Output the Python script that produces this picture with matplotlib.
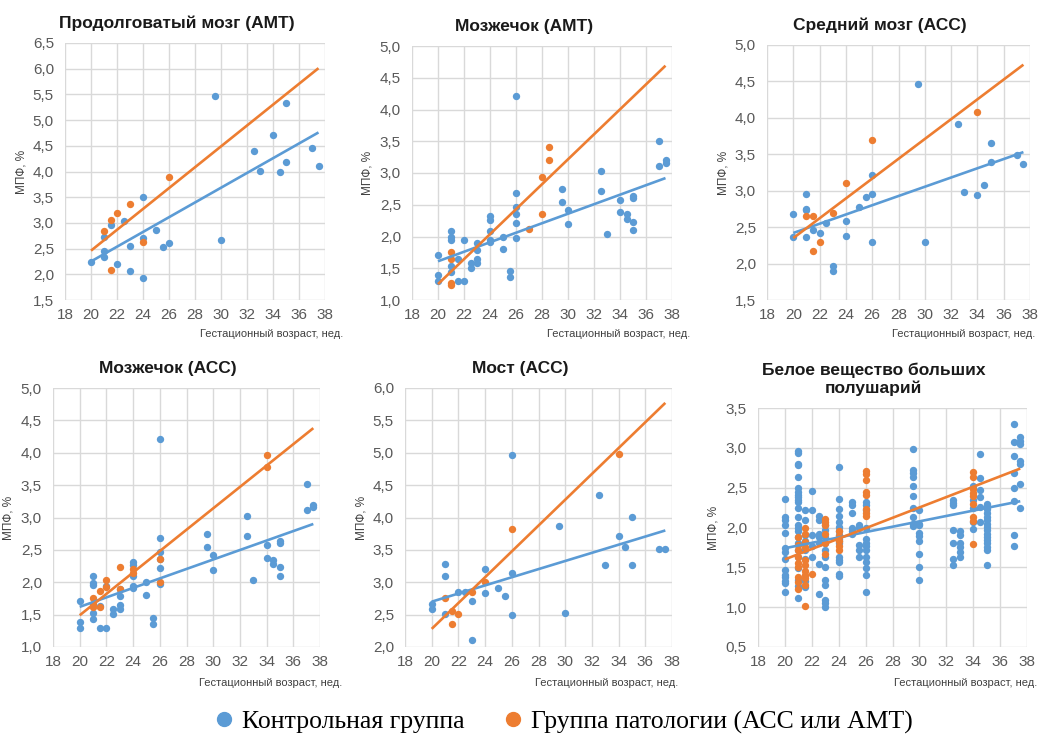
import numpy as np
import matplotlib
matplotlib.use("Agg")
import matplotlib.pyplot as plt
from matplotlib.lines import Line2D
from matplotlib.ticker import FuncFormatter, MultipleLocator

plt.rcParams["font.family"] = ["Liberation Sans", "DejaVu Sans"]

BLUE = "#5B9BD5"
ORANGE = "#ED7D31"
trend_x = [20, 37.5]

# Продолговатый мозг (АМТ)
med_ctrl_x = [20, 21, 21, 21, 21.5, 22, 22.5, 23, 23, 24, 24, 24, 25, 25.5, 26,
              29.5, 30, 32.5, 33, 34, 34.5, 35, 35, 37, 37.5]
med_ctrl_y = [2.24, 2.72, 2.46, 2.33, 2.96, 2.20, 3.03, 2.56, 2.06, 3.50, 2.71, 1.92, 2.86, 2.53, 2.60,
              5.46, 2.66, 4.40, 4.01, 4.71, 3.99, 4.18, 5.33, 4.46, 4.11]
med_path_x = [21, 21.5, 22, 23, 24, 26, 21.5]
med_path_y = [2.84, 3.05, 3.19, 3.37, 2.62, 3.90, 2.08]
med_trend_ctrl = [2.25, 4.76]
med_trend_path = [2.46, 6.01]

# Мозжечок (АМТ)
cer_ctrl_x = [20, 20, 20, 21, 21, 21, 21, 21, 21.5, 21.5, 22, 22, 22.5, 22.5, 23, 23, 23, 23,
              24, 24, 24, 24, 24, 25, 25, 25.5, 25.5, 26, 26, 26, 26, 26, 26,
              29.5, 29.5, 30, 30, 32.5, 32.5, 33, 34, 34, 34.5, 34.5, 35, 35, 35, 35,
              37, 37, 37.5, 37.5]
cer_ctrl_y = [1.71, 1.39, 1.30, 2.09, 1.99, 1.95, 1.53, 1.44, 1.64, 1.30, 1.94, 1.30, 1.58, 1.51,
              1.89, 1.79, 1.65, 1.58, 2.32, 2.26, 2.09, 1.94, 1.91, 2.00, 1.80, 1.45, 1.36,
              4.21, 2.68, 2.47, 2.36, 2.22, 1.98, 2.75, 2.54, 2.42, 2.19, 3.03, 2.72, 2.04,
              2.57, 2.38, 2.35, 2.28, 2.64, 2.61, 2.23, 2.10, 3.51, 3.11, 3.20, 3.16]
cer_amt_x = [21, 21, 21, 21, 27, 28, 28, 28.5, 28.5]
cer_amt_y = [1.76, 1.65, 1.27, 1.23, 2.12, 2.94, 2.35, 3.41, 3.20]
cer_amt_trend_ctrl = [1.61, 2.92]
cer_amt_trend_path = [1.25, 4.69]

# Средний мозг (АСС)
mid_ctrl_x = [20, 20, 21, 21, 21, 21, 21.5, 22, 22.5, 23, 23, 24, 24, 25, 25.5, 26, 26, 26,
              29.5, 30, 32.5, 33, 34, 34.5, 35, 35, 37, 37.5]
mid_ctrl_y = [2.68, 2.36, 2.95, 2.75, 2.73, 2.37, 2.46, 2.42, 2.56, 1.97, 1.90, 2.58, 2.38,
              2.78, 2.92, 3.22, 2.96, 2.29, 4.47, 2.29, 3.92, 2.98, 2.94, 3.08, 3.65, 3.39,
              3.49, 3.37]
mid_path_x = [21, 21.5, 21.5, 22, 23, 24, 26, 34]
mid_path_y = [2.65, 2.65, 2.17, 2.29, 2.70, 3.10, 3.70, 4.08]
mid_trend_ctrl = [2.42, 3.53]
mid_trend_path = [2.35, 4.73]

# Мозжечок (АСС)
cer_acc_path_x = [21, 21, 21, 21.5, 21.5, 22, 22, 23, 23, 24, 24, 26, 26, 34, 34]
cer_acc_path_y = [1.76, 1.67, 1.62, 1.87, 1.62, 2.03, 1.92, 2.24, 1.89, 2.21, 2.14, 2.36, 2.00,
                  3.97, 3.78]
cer_acc_trend_ctrl = [1.62, 2.90]
cer_acc_trend_path = [1.49, 4.38]

# Мост (АСС)
pons_ctrl_x = [20, 20, 21, 21, 21, 22, 22.5, 23, 23, 24, 24, 25, 25.5, 26, 26, 26,
               29.5, 30, 32.5, 33, 34, 34.5, 35, 35, 37, 37.5]
pons_ctrl_y = [2.66, 2.58, 3.28, 3.10, 2.51, 2.85, 2.85, 2.71, 2.11, 3.21, 2.84, 2.91, 2.78,
               4.97, 3.15, 2.50, 3.87, 2.52, 4.35, 3.27, 3.71, 3.54, 4.01, 3.27, 3.51, 3.51]
pons_path_x = [21, 21.5, 21.5, 22, 23, 24, 26, 34]
pons_path_y = [2.76, 2.55, 2.36, 2.51, 2.85, 3.00, 3.82, 4.98]
pons_trend_ctrl = [2.70, 3.80]
pons_trend_path = [2.28, 5.77]

# Белое вещество больших полушарий
wm_ctrl_weeks = [20, 21, 21.5, 22, 22.5, 23, 24, 25, 25.5, 26, 29.5, 30, 32.5, 33, 34, 34.5,
                 35, 37, 37.5]
wm_ctrl_vals = [
    [2.36, 2.13, 2.10, 2.03, 1.93, 1.74, 1.69, 1.61, 1.47, 1.41, 1.38, 1.33, 1.30, 1.19],
    [2.96, 2.94, 2.80, 2.78, 2.64, 2.50, 2.45, 2.41, 2.38, 2.35, 2.32, 2.24, 2.13, 2.03,
     2.00, 1.96, 1.88, 1.80, 1.72, 1.63, 1.49, 1.34, 1.26, 1.11],
    [2.22, 2.10, 1.90, 1.83, 1.72, 1.60, 1.33, 1.25],
    [2.46, 2.22, 1.90, 1.77, 1.63],
    [2.15, 2.09, 1.92, 1.88, 1.80, 1.54, 1.17],
    [2.03, 1.97, 1.88, 1.80, 1.72, 1.63, 1.51, 1.34, 1.28, 1.09, 1.05, 1.00],
    [2.76, 2.36, 2.23, 2.14, 2.07, 2.01, 1.96, 1.90, 1.86, 1.83, 1.80, 1.63, 1.59, 1.57,
     1.42, 1.39],
    [2.32, 2.28, 2.18, 1.99, 1.96, 1.92],
    [2.03, 2.00, 1.78, 1.72, 1.63],
    [2.32, 2.28, 2.22, 1.99, 1.86, 1.81, 1.77, 1.72, 1.63, 1.57, 1.49, 1.40, 1.19],
    [2.98, 2.72, 2.69, 2.64, 2.52, 2.39, 2.25, 2.13, 2.05, 2.02],
    [2.22, 2.05, 2.03, 1.93, 1.89, 1.83, 1.67, 1.50, 1.34],
    [2.35, 2.31, 2.28, 1.97, 1.81, 1.60, 1.53],
    [1.95, 1.90, 1.80, 1.75, 1.69, 1.63],
    [2.52, 2.35, 2.25, 2.07, 1.98],
    [2.92, 2.62, 2.47, 2.38, 2.26, 2.07],
    [2.29, 2.26, 2.23, 2.18, 2.13, 2.09, 2.05, 2.01, 1.97, 1.92, 1.88, 1.84, 1.80, 1.76,
     1.72, 1.53],
    [3.30, 3.07, 2.90, 2.68, 2.49, 2.33, 1.90, 1.77],
    [3.13, 3.08, 3.05, 2.83, 2.80, 2.54, 2.25],
]
wm_path_weeks = [21, 21.5, 22, 23, 24, 26, 34]
wm_path_vals = [
    [1.88, 1.78, 1.72, 1.63, 1.55, 1.51, 1.38, 1.32, 1.23],
    [1.99, 1.92, 1.82, 1.76, 1.59, 1.53, 1.46, 1.40, 1.36, 1.28, 1.01],
    [1.42],
    [2.11, 2.07, 2.03, 1.92, 1.80, 1.67],
    [1.96, 1.89, 1.83, 1.77, 1.72],
    [2.71, 2.67, 2.59, 2.45, 2.41, 2.23, 2.18, 2.14],
    [2.70, 2.64, 2.48, 2.43, 2.40, 2.30, 2.13, 2.08, 1.79],
]
wm_trend_ctrl = [1.74, 2.33]
wm_trend_path = [1.60, 2.74]


def flatten(weeks, vals):
    xs = np.repeat(weeks, [len(v) for v in vals])
    ys = np.concatenate([np.array(v, dtype=float) for v in vals])
    return xs, ys


wm_ctrl_x, wm_ctrl_y = flatten(wm_ctrl_weeks, wm_ctrl_vals)
wm_path_x, wm_path_y = flatten(wm_path_weeks, wm_path_vals)

W, H = 1038, 738
fig = plt.figure(figsize=(W / 100, H / 100), dpi=100)


def px_axes(x0, y0, x1, y1):
    return fig.add_axes([x0 / W, 1 - y1 / H, (x1 - x0) / W, (y1 - y0) / H])


comma = FuncFormatter(lambda v, p: f"{v:.1f}".replace(".", ","))

panels = [
    # title, box (px), ylim, data, xlabel right edge (px), xlabel y (px)
    ("Продолговатый мозг (АМТ)", (65, 43, 325, 300), (1.5, 6.5),
     med_ctrl_x, med_ctrl_y, med_path_x, med_path_y, med_trend_ctrl, med_trend_path, 343, 334),
    ("Мозжечок (АМТ)", (412, 46, 672, 300), (1.0, 5.0),
     cer_ctrl_x, cer_ctrl_y, cer_amt_x, cer_amt_y, cer_amt_trend_ctrl, cer_amt_trend_path, 690, 334),
    ("Средний мозг (АСС)", (767, 45, 1030, 300), (1.5, 5.0),
     mid_ctrl_x, mid_ctrl_y, mid_path_x, mid_path_y, mid_trend_ctrl, mid_trend_path, 1035, 334),
    ("Мозжечок (АСС)", (53, 388, 320, 647), (1.0, 5.0),
     cer_ctrl_x, cer_ctrl_y, cer_acc_path_x, cer_acc_path_y, cer_acc_trend_ctrl,
     cer_acc_trend_path, 342, 683),
    ("Мост (АСС)", (405, 388, 672, 647), (2.0, 6.0),
     pons_ctrl_x, pons_ctrl_y, pons_path_x, pons_path_y, pons_trend_ctrl, pons_trend_path, 678, 683),
    ("Белое вещество больших\nполушарий", (758, 408, 1027, 647), (0.5, 3.5),
     wm_ctrl_x, wm_ctrl_y, wm_path_x, wm_path_y, wm_trend_ctrl, wm_trend_path, 1037, 683),
]

for (title, box, ylim, cx, cy, px, py, tc, tp, lab_r, lab_y) in panels:
    ax = px_axes(*box)
    ax.scatter(cx, cy, s=28, color=BLUE, linewidths=0, zorder=3)
    ax.scatter(px, py, s=28, color=ORANGE, linewidths=0, zorder=3)
    ax.plot(trend_x, tc, color=BLUE, lw=1.9, zorder=4, solid_capstyle="butt")
    ax.plot(trend_x, tp, color=ORANGE, lw=1.9, zorder=4, solid_capstyle="butt")
    ax.set_xlim(18, 38)
    ax.set_ylim(*ylim)
    ax.xaxis.set_major_locator(MultipleLocator(2))
    ax.yaxis.set_major_locator(MultipleLocator(0.5))
    ax.yaxis.set_major_formatter(comma)
    ax.grid(True, color="#d9d9d9", lw=1.0, zorder=0)
    ax.set_axisbelow(True)
    for s in ax.spines.values():
        s.set_visible(False)
    ax.tick_params(length=0, labelsize=11, labelcolor="#595959")
    ax.tick_params(axis="y", pad=8)
    ax.tick_params(axis="x", pad=6)
    ax.set_ylabel("МПФ, %", fontsize=8.5, color="#404040")
    ax.yaxis.set_label_coords(-38 / (box[2] - box[0]), 0.5)
    ax.set_title(title, x=0.43, fontsize=12.5, fontweight="bold", color="#1a1a1a",
                 pad=11, linespacing=1.15)
    fig.text(lab_r / W, 1 - lab_y / H, "Гестационный возраст, нед.", ha="right",
             va="center", fontsize=8, color="#404040")

handles = [
    Line2D([], [], ls="none", marker="o", ms=10, color=BLUE, label="Контрольная группа"),
    Line2D([], [], ls="none", marker="o", ms=10, color=ORANGE,
           label="Группа патологии (АСС или АМТ)"),
]
fig.legend(handles=handles, loc="center", bbox_to_anchor=(562 / W, 1 - 722 / H), ncol=2,
           frameon=False, prop={"family": "Liberation Serif", "size": 18.5},
           handletextpad=0.2, columnspacing=1.4, handlelength=1.0)

fig.savefig("out.png", dpi=100, facecolor="white")
